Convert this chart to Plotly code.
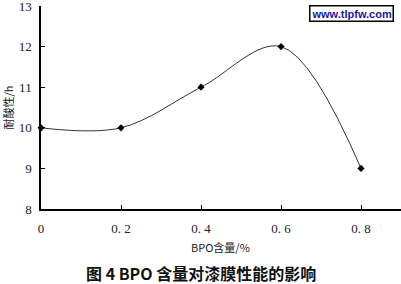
import plotly.graph_objects as go

bpo = [0, 0.2, 0.4, 0.6, 0.8]
acid_res = [10, 10, 11, 12, 9]
x_ticks = [0, 0.2, 0.4, 0.6, 0.8]
x_tick_text = ["0", "0. 2", "0. 4", "0. 6", "0. 8"]
y_ticks = [8, 9, 10, 11, 12, 13]

fig = go.Figure()
fig.add_trace(go.Scatter(
    x=bpo, y=acid_res, mode="lines+markers",
    line=dict(shape="spline", smoothing=1.0, color="#333333", width=1),
    marker=dict(symbol="diamond", size=5.5, color="black"),
    cliponaxis=False,
))

fig.update_layout(
    width=401, height=284,
    margin=dict(l=41, r=0, t=6, b=75),
    paper_bgcolor="white", plot_bgcolor="white",
    showlegend=False,
    xaxis=dict(range=[0, 0.9], tickvals=x_ticks, ticktext=x_tick_text,
               ticks="inside", ticklen=4, tickcolor="black", tickwidth=1,
               showline=True, linecolor="black", linewidth=2, showgrid=False,
               zeroline=False, ticklabelstandoff=6, ticklabeloverflow="allow",
               tickfont=dict(family="Liberation Serif", size=13, color="#222"),
               ),
    yaxis=dict(range=[8, 13], tickvals=y_ticks,
               ticks="inside", ticklen=4, tickcolor="black", tickwidth=1,
               showline=True, linecolor="black", linewidth=1.5, showgrid=False,
               zeroline=False, ticklabelstandoff=5, ticklabeloverflow="allow",
               tickfont=dict(family="Liberation Serif", size=13, color="#222"),
               ),
    annotations=[
        dict(text="耐酸性/h", xref="paper", yref="paper", x=-41/360, y=0.5,
             xanchor="left", yanchor="middle", textangle=-90, showarrow=False,
             xshift=-3, font=dict(family="Noto Sans CJK SC", size=11, color="#222")),
        dict(text="BPO含量/%", xref="paper", yref="paper", x=(220-41)/360, y=0,
             yshift=-38, xanchor="center", yanchor="middle", showarrow=False,
             font=dict(family="Noto Sans CJK SC", size=11, color="#222")),
        dict(text="<b>图 4 BPO 含量对漆膜性能的影响</b>", xref="paper", yref="paper",
             x=(201-41)/360, y=0, yshift=-64, xanchor="center", yanchor="middle",
             showarrow=False,
             font=dict(family="Noto Sans CJK SC", size=16, color="#111")),
        dict(text="<b>www.tlpfw.com</b>", xref="paper", yref="paper",
             x=(351-41)/360, y=1, yshift=-7, xanchor="center", yanchor="middle",
             showarrow=False, bordercolor="black", borderwidth=1.5, borderpad=1,
             bgcolor="white",
             font=dict(family="Liberation Sans", size=11, color="#1a1a9a")),
    ],
)

fig.write_html("out.html")
